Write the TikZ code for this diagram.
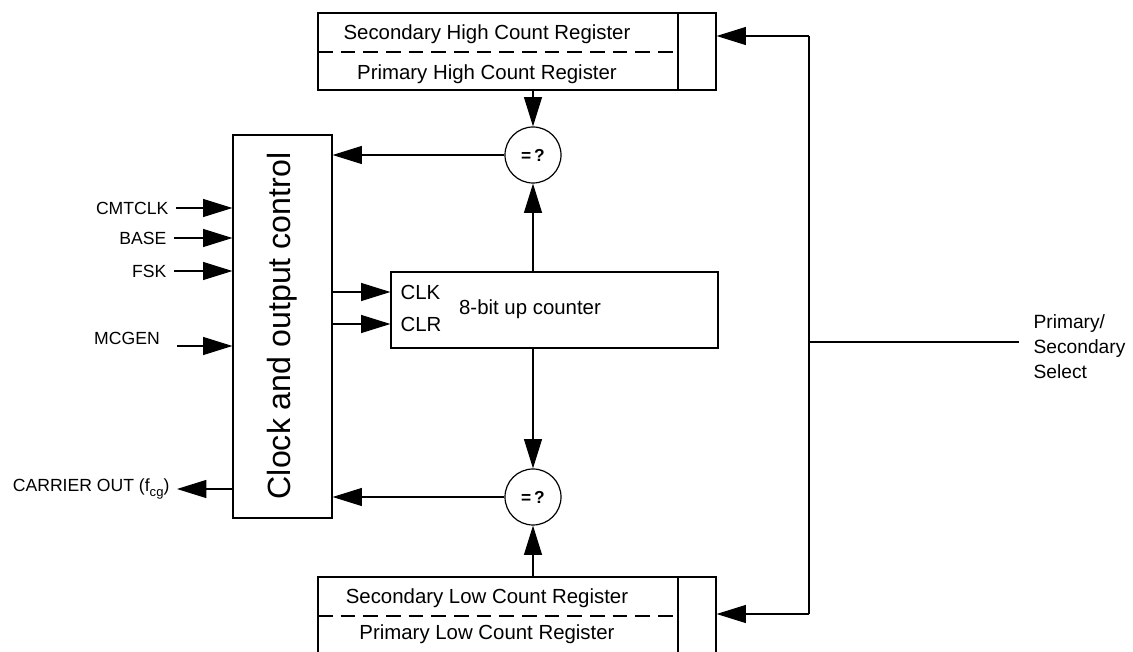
\documentclass[tikz,border=0pt]{standalone}
\usepackage{fontspec}
\setmainfont{Liberation Sans}
\usetikzlibrary{arrows.meta,fit}
\begin{document}
\begin{tikzpicture}[x=0.75pt,y=-0.75pt, line width=0.9pt,
  arr/.style={-{Triangle[length=22pt,width=13.5pt]}},
  box/.style={draw, inner sep=0pt},
  txt/.style={font=\fontsize{15.3}{18.75}\selectfont, inner sep=0pt},
  sig/.style={font=\fontsize{13.2}{15}\selectfont, inner xsep=5.25pt, inner ysep=0pt},
  cmp/.style={circle, draw, minimum size=42pt, inner sep=0pt, font=\fontsize{13}{15}\selectfont\bfseries},
  sepline/.style={dash pattern=on 11pt off 6pt}]
\useasboundingbox (0,0) rectangle (1133,652);

% registers
\node[box, fit={(318,13)(716,90)}] (hireg) {};
\draw (678,13) -- (678,90);
\draw[sepline] (318,52) -- (678,52);
\node[txt] (hisec) at (487,34) {Secondary High Count Register};
\node[txt] (hipri) at (487,74) {Primary High Count Register};

\node[box, fit={(318,577)(716,655)}] (loreg) {};
\draw (678,577) -- (678,655);
\draw[sepline] (318,616) -- (678,616);
\node[txt] (losec) at (487,598) {Secondary Low Count Register};
\node[txt] (lopri) at (487,634) {Primary Low Count Register};

% comparators
\node[cmp] (hicmp) at (533,155) {=\,?};
\node[cmp] (locmp) at (533,497) {=\,?};

% clock and output control
\node[box, fit={(233,135)(332,518)}] (clock) {};
\node[font=\fontsize{24.1}{28}\selectfont, rotate=90, inner sep=0pt] (clocktext) at (282.5,326) {Clock and output control};

% counter
\node[box, fit={(391,272)(718,348)}] (counter) {};
\node[txt, anchor=west] (clk) at (400,292) {CLK};
\node[txt, anchor=west] (clr) at (400,324) {CLR};
\node[txt] (ctrtext) at (530,309) {8-bit up counter};

% vertical connections
\draw[arr] (hicmp.north |- hireg.south) -- (hicmp.north);
\draw[arr] (hicmp.south |- counter.north) -- (hicmp.south);
\draw[arr] (locmp.north |- counter.south) -- (locmp.north);
\draw[arr] (locmp.south |- loreg.north) -- (locmp.south);

% comparator outputs
\draw[arr] (hicmp.west) -- (hicmp.west -| clock.east);
\draw[arr] (locmp.west) -- (locmp.west -| clock.east);

% CLK / CLR
\draw[arr] (clock.east |- clk.west) -- (counter.west |- clk.west);
\draw[arr] (clock.east |- clr.west) -- (counter.west |- clr.west);

% inputs
\node[sig, anchor=east] (cmtclk) at (176,208) {CMTCLK};
\node[sig, anchor=east] (base) at (174,238) {BASE};
\node[sig, anchor=east] (fsk) at (174,271) {FSK};
\node[sig] (mcgen) at (127,338) {MCGEN};
\coordinate (mcgenin) at (177,346);
\draw[arr] (cmtclk.east) -- (cmtclk.east -| clock.west);
\draw[arr] (base.east) -- (base.east -| clock.west);
\draw[arr] (fsk.east) -- (fsk.east -| clock.west);
\draw[arr] (mcgenin) -- (mcgenin -| clock.west);

% output
\node[sig, anchor=east] (carrier) at (177,489) {CARRIER OUT (f\raisebox{-0.5ex}{\fontsize{9.8}{10}\selectfont cg})};
\draw[arr] (clock.west |- carrier.east) -- (carrier.east);

% select bus
\coordinate (bustop) at (809,36);
\coordinate (busbot) at (809,614);
\coordinate (selin) at (809,342);
\draw (bustop) -- (busbot);
\draw[arr] (bustop) -- (bustop -| hireg.east);
\draw[arr] (busbot) -- (busbot -| loreg.east);
\node[font=\fontsize{14.4}{18.75}\selectfont, align=left, anchor=west, inner xsep=10.5pt, inner ysep=0pt] (sel) at (1019,347) {Primary/\\Secondary\\Select};
\draw (selin) -- (selin -| sel.west);
\end{tikzpicture}
\end{document}
